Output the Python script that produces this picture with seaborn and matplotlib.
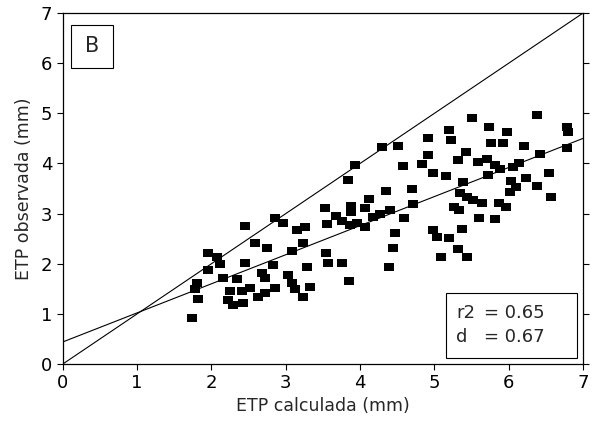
import numpy as np
import pandas as pd
import matplotlib
matplotlib.use("Agg")
import matplotlib.pyplot as plt
from matplotlib.patches import Rectangle
import seaborn as sns

# ETP calculada (mm) vs ETP observada (mm)
etp_calc = [
    1.74, 1.82, 1.78, 1.80, 1.95, 1.95, 2.07, 2.11, 2.15, 2.34,
    2.45, 2.45, 2.22, 2.29, 2.42, 2.25, 2.41, 2.52, 2.62, 2.72,
    2.85, 2.68, 2.72, 2.83, 2.58, 2.75, 2.85, 2.96, 3.15, 3.26,
    3.08, 3.23, 3.03, 3.08, 3.12, 3.23, 3.28, 3.32, 3.53, 3.55,
    3.54, 3.57, 3.75, 3.85, 3.67, 3.75, 3.86, 3.96, 4.06, 3.88,
    3.88, 4.06, 4.12, 3.84, 3.93, 4.17, 4.27, 4.40, 4.35, 4.29,
    4.51, 4.58, 4.59, 4.70, 4.71, 4.47, 4.44, 4.39, 4.83, 4.91,
    4.91, 4.98, 4.98, 5.03, 5.09, 5.20, 5.22, 5.50, 5.73, 5.98,
    6.38, 6.78, 6.80, 5.76, 5.92, 6.20, 6.78, 5.42, 5.32, 5.15,
    5.59, 5.71, 5.81, 5.88, 6.42, 6.14, 6.06, 5.72, 6.54, 5.38,
    6.03, 6.23, 6.10, 6.02, 6.38, 6.57, 5.34, 5.44, 5.52, 5.64,
    5.87, 5.96, 5.26, 5.33, 5.60, 5.81, 5.20, 5.37, 5.32, 5.44,
]
etp_obs = [
    0.92, 1.30, 1.50, 1.62, 1.87, 2.21, 2.13, 2.00, 1.72, 1.70,
    2.75, 2.01, 1.28, 1.18, 1.22, 1.46, 1.46, 1.52, 1.34, 1.42,
    1.52, 1.81, 1.72, 1.97, 2.41, 2.31, 2.91, 2.81, 2.67, 2.73,
    2.25, 2.41, 1.78, 1.62, 1.50, 1.34, 1.93, 1.54, 3.11, 2.79,
    2.21, 2.01, 2.01, 1.66, 2.95, 2.85, 2.77, 2.81, 2.73, 3.15,
    3.03, 3.11, 3.29, 3.67, 3.97, 2.93, 2.99, 3.07, 3.45, 4.33,
    4.35, 3.95, 2.91, 3.49, 3.19, 2.61, 2.31, 1.93, 3.99, 4.51,
    4.17, 3.81, 2.67, 2.53, 2.13, 4.67, 4.47, 4.91, 4.73, 4.63,
    4.97, 4.73, 4.63, 4.41, 4.41, 4.35, 4.31, 4.23, 4.07, 3.75,
    4.03, 4.09, 3.97, 3.89, 4.19, 4.01, 3.93, 3.77, 3.81, 3.63,
    3.65, 3.71, 3.53, 3.43, 3.55, 3.33, 3.41, 3.33, 3.27, 3.21,
    3.21, 3.13, 3.13, 3.07, 2.91, 2.89, 2.51, 2.69, 2.29, 2.13,
]

# fitted line as drawn in the figure
reg_intercept = 0.44
reg_slope = 0.58
x_line = [0, 7]

df = pd.DataFrame({"calc": etp_calc, "obs": etp_obs})
lines = pd.DataFrame({
    "x": x_line * 2,
    "y": x_line + [reg_intercept + reg_slope * v for v in x_line],
    "line": ["1:1"] * 2 + ["reg"] * 2,
})

sns.set_style("ticks")
plt.rcParams["font.family"] = ["DejaVu Sans"]

fig = plt.figure(figsize=(5.98, 4.28), dpi=100)
ax = fig.add_axes([0.105, 0.1495, 0.87, 0.82])

# slightly flattened square marker, like the original print
rect_marker = [(-1, -0.75), (1, -0.75), (1, 0.75), (-1, 0.75), (-1, -0.75)]

sns.lineplot(data=lines, x="x", y="y", units="line", estimator=None,
             color="black", linewidth=0.8, ax=ax, legend=False)
sns.scatterplot(data=df, x="calc", y="obs", marker=rect_marker, s=48,
                color="black", edgecolor="black", linewidth=0, ax=ax)

ax.set_xlim(0, 7)
ax.set_ylim(0, 7)
ax.set_xticks(range(8))
ax.set_yticks(range(8))
ax.tick_params(direction="out", length=4, width=0.8, labelsize=13,
               right=True, colors="black")
ax.tick_params(axis="y", labelright=False)
for s in ax.spines.values():
    s.set_visible(True)
    s.set_linewidth(0.9)
    s.set_color("black")

ax.set_xlabel("ETP calculada (mm)", fontsize=12.5, labelpad=3)
ax.set_ylabel("ETP observada (mm)", fontsize=12.5, labelpad=6)

# panel label box
ax.add_patch(Rectangle((0.015, 0.843), 0.081, 0.123, transform=ax.transAxes,
                       fc="white", ec="black", lw=0.8, zorder=5))
ax.text(0.056, 0.905, "B", transform=ax.transAxes, fontsize=15,
        ha="center", va="center", zorder=6)

# statistics box
ax.add_patch(Rectangle((0.737, 0.017), 0.251, 0.185, transform=ax.transAxes,
                       fc="white", ec="black", lw=0.8, zorder=5))
ax.text(0.756, 0.145, "r2", transform=ax.transAxes, fontsize=13,
        ha="left", va="center", zorder=6)
ax.text(0.756, 0.077, "d", transform=ax.transAxes, fontsize=13,
        ha="left", va="center", zorder=6)
ax.text(0.81, 0.145, "= 0.65", transform=ax.transAxes, fontsize=13,
        ha="left", va="center", zorder=6)
ax.text(0.81, 0.077, "= 0.67", transform=ax.transAxes, fontsize=13,
        ha="left", va="center", zorder=6)

fig.savefig("out.png", dpi=100)
